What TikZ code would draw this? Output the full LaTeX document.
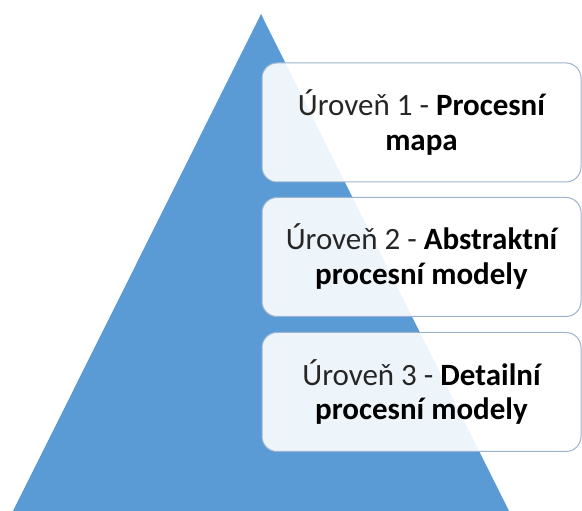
\documentclass[tikz,border=0pt]{standalone}
\usepackage{fontspec}
\setmainfont{Carlito}
\definecolor{pyrblue}{HTML}{5B9BD5}
\definecolor{boxline}{HTML}{9DB3CF}
\definecolor{txtgray}{HTML}{262626}
\begin{document}
\begin{tikzpicture}[x=1pt,y=1pt,
  levelbox/.style={rectangle, rounded corners=15pt, draw=boxline, line width=1pt,
    fill=white, fill opacity=0.9, text opacity=1, minimum width=319pt, minimum height=119pt,
    align=center, text=txtgray, font=\fontsize{31}{35}\selectfont, inner sep=0pt}]
  \useasboundingbox (0,0) rectangle (582,511);
  % pyramid
  \fill[pyrblue] (13,0) -- (509,0) -- (261,497) -- cycle;
  % level boxes
  \node[levelbox] (l1) at (421.5,388.5) {Úroveň 1 - \textbf{\color{black}Procesní}\\\textbf{\color{black}mapa}};
  \node[levelbox] (l2) at (421.5,254) {Úroveň 2 - \textbf{\color{black}Abstraktní}\\\textbf{\color{black}procesní modely}};
  \node[levelbox] (l3) at (421.5,119) {Úroveň 3 - \textbf{\color{black}Detailní}\\\textbf{\color{black}procesní modely}};
\end{tikzpicture}
\end{document}
